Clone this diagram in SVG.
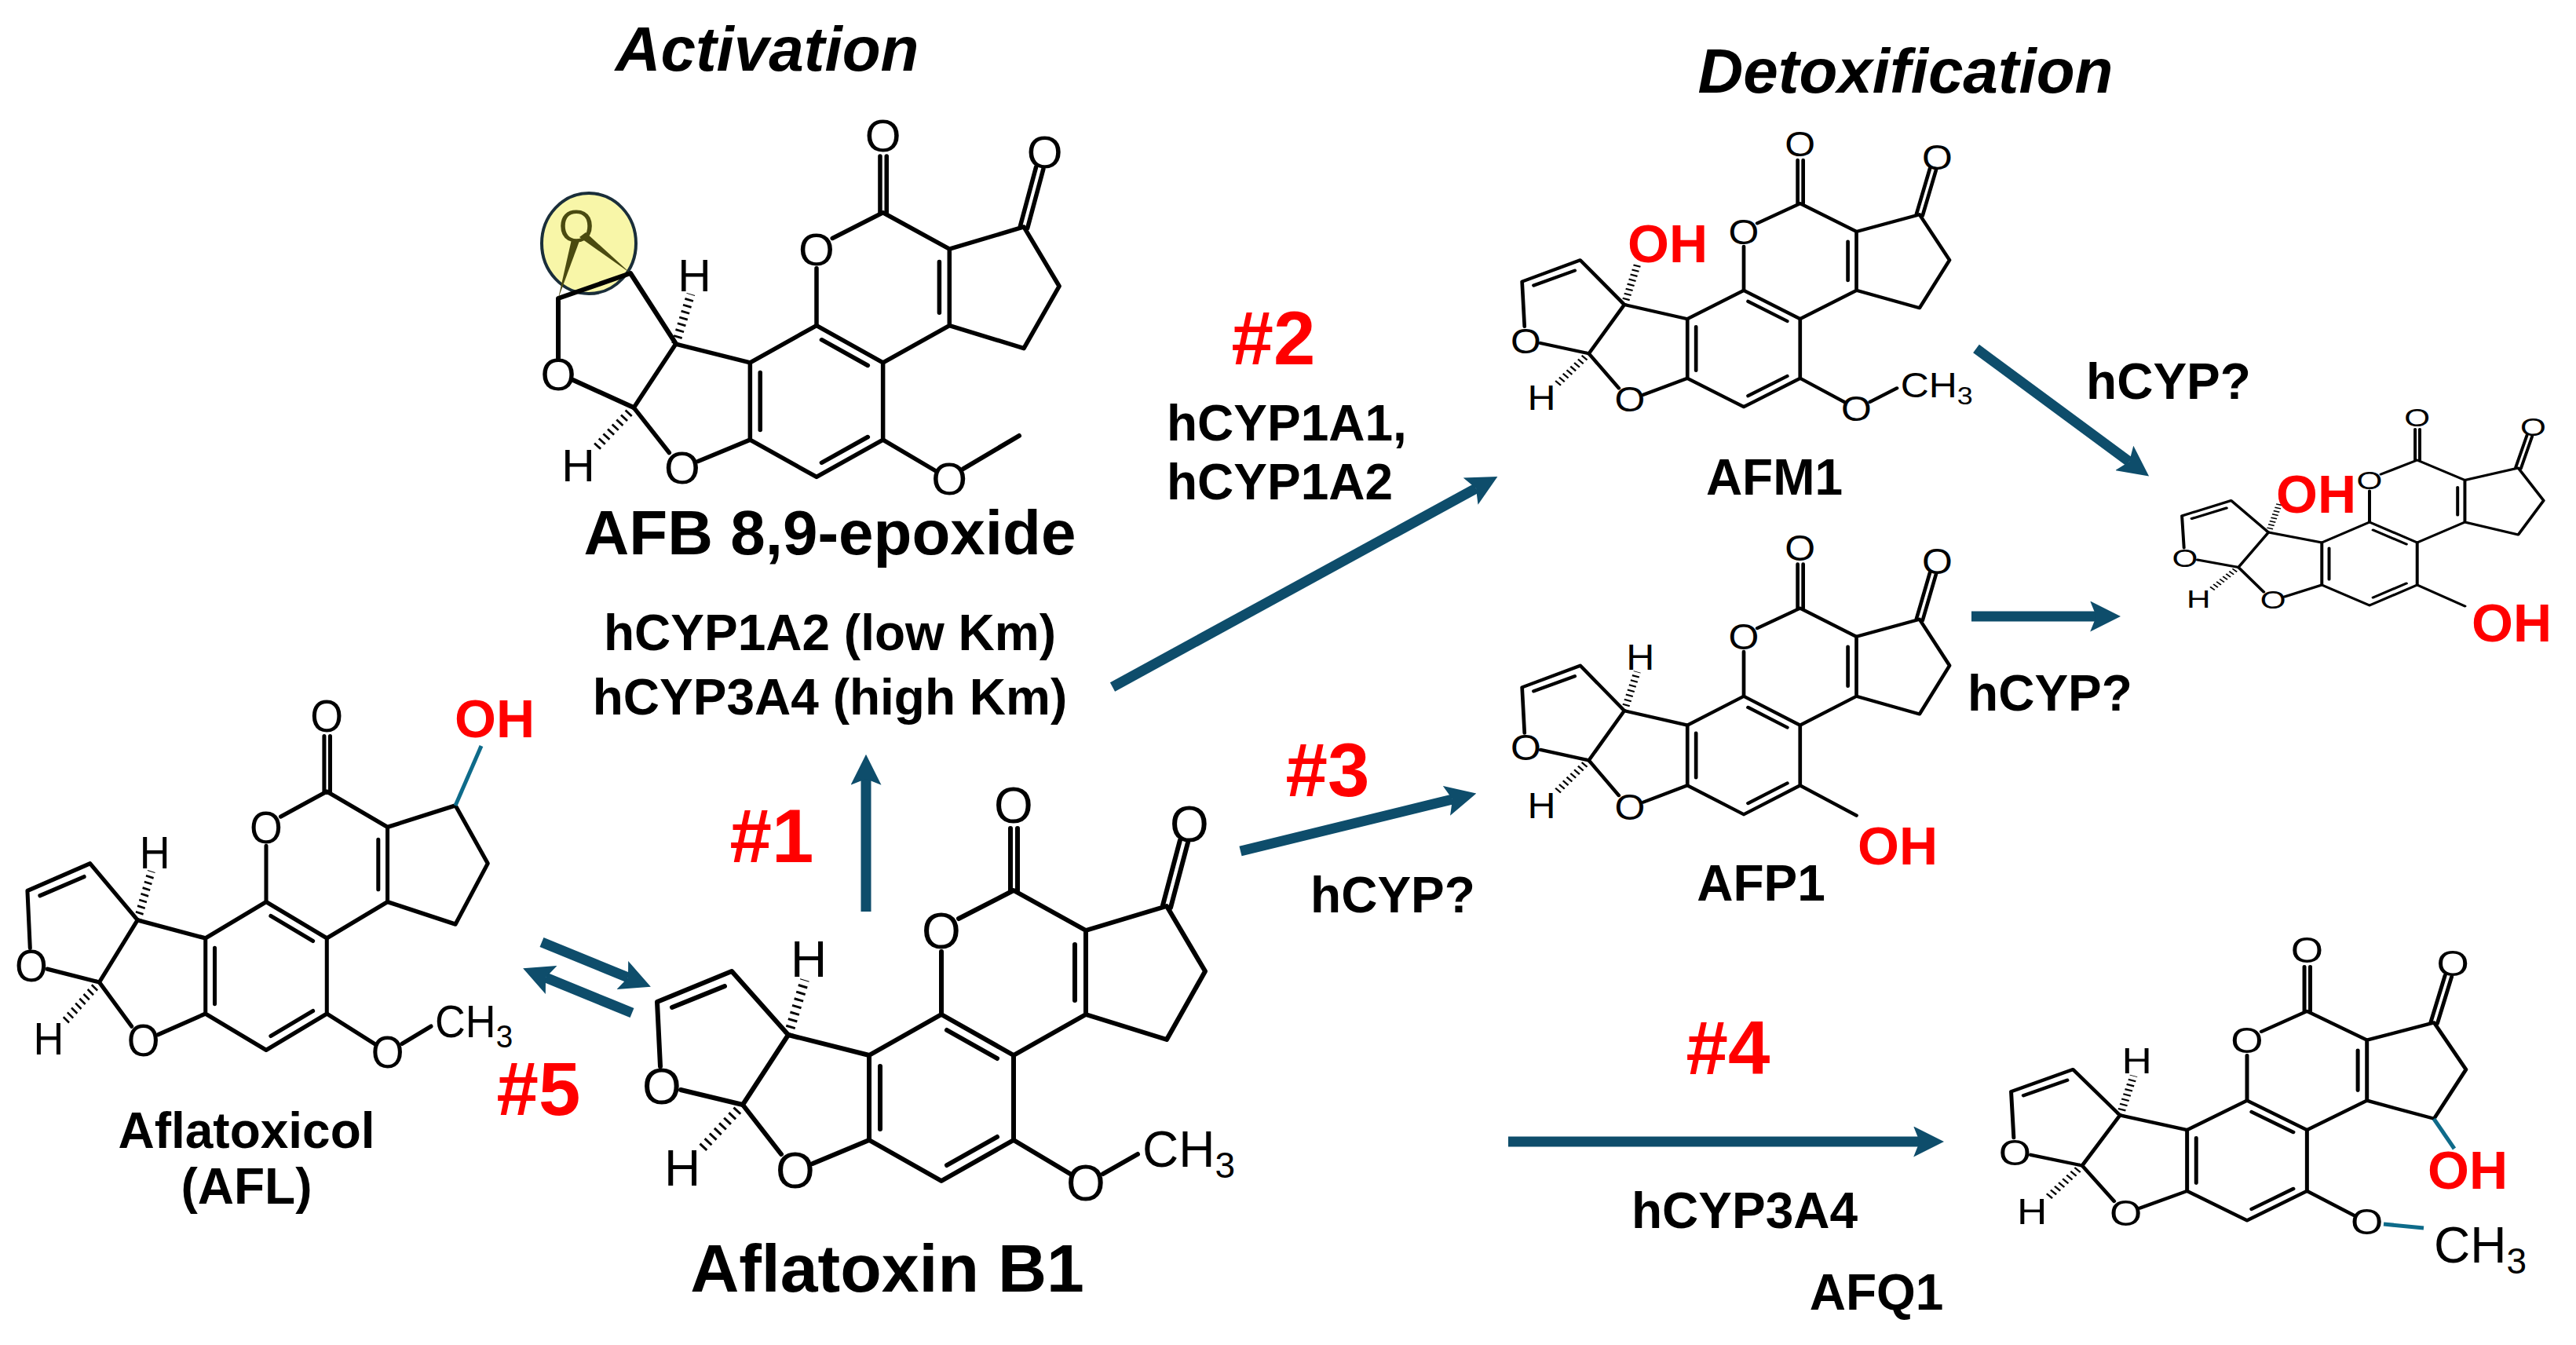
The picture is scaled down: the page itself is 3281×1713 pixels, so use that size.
<svg xmlns="http://www.w3.org/2000/svg" xmlns:xlink="http://www.w3.org/1999/xlink" width="3281" height="1713" viewBox="0 0 3281 1713">
<style>
.b{stroke:#000;stroke-width:6;fill:none;stroke-linecap:round;stroke-linejoin:round}
.hs{stroke:#000;stroke-width:12;stroke-dasharray:3 6;fill:none}
.at{font-family:"Liberation Sans",Arial,sans-serif;font-size:64px;fill:#000;text-anchor:middle}
.nm{font-family:"Liberation Sans",Arial,sans-serif;font-weight:bold;font-size:64px;fill:#000;text-anchor:middle}
.big{font-family:"Liberation Sans",Arial,sans-serif;font-weight:bold;font-size:80px;fill:#000;text-anchor:middle}
.hd{font-family:"Liberation Sans",Arial,sans-serif;font-weight:bold;font-style:italic;font-size:80px;fill:#000;text-anchor:middle}
.num{font-family:"Liberation Sans",Arial,sans-serif;font-weight:bold;font-size:96px;fill:#f00;text-anchor:middle}
.oh{font-family:"Liberation Sans",Arial,sans-serif;font-weight:bold;font-size:68px;fill:#f00;text-anchor:middle}
.ar{stroke:#0e4d6b;stroke-width:13;fill:none;marker-end:url(#ah)}
.tl{stroke:#0e6b8a;stroke-width:5;fill:none}
</style>
<defs>
<marker id="ah" viewBox="0 0 10 10" refX="2" refY="5" markerWidth="3" markerHeight="3" orient="auto">
<path d="M0,0 L10,5 L0,10 L2,5 Z" fill="#0e4d6b"/>
</marker>
<g id="core">
<path class="b" d="M-92,-54 L0,-106 L92,-54 L92,54 L0,106 L-92,54 Z"/>
<path class="b" d="M-78,-40 L-78,40 M7,-86 L71,-50 M7,86 L71,50"/>
<path class="b" d="M0,-106 L0,-186 M22,-228 L92,-264 L184,-213 L184,-106 L92,-54 M170,-195 L170,-124 M184,-213 L287,-244 L336,-161 L287,-74 L184,-106"/>
<path class="b" d="M88,-264 L88,-343 M97,-264 L97,-343"/>
<text class="at" x="0" y="-190">O</text>
<text class="at" x="92" y="-350">O</text>
<path class="b" d="M-92,54 L-164,84 M-204,72 L-253,9 L-195,-80 L-92,-54"/>
<text class="at" x="-186" y="115">O</text>
<path class="hs" d="M-253,9 L-308,68"/>
<text class="at" x="-330" y="112">H</text>
</g>
<g id="ket"><path class="b" d="M282,-245 L304,-328 M292,-242 L314,-325"/><text class="at" x="316" y="-326">O</text></g>
<g id="fur"><path class="b" d="M-253,9 L-332,-10 M-358,-40 L-362,-122 L-267,-161 L-195,-80 M-343,-115 L-276,-142"/><text class="at" x="-356" y="8">O</text></g>
<g id="hH"><path class="hs" d="M-195,-80 L-174,-150"/><text class="at" x="-169" y="-154">H</text></g>
<path id="hO" class="hs" d="M-195,-80 L-174,-152"/>
<g id="omO"><path class="b" d="M92,54 L164,97"/><text class="at" x="184" y="131">O</text></g>
<g id="ome"><use xlink:href="#omO"/><path class="b" d="M206,97 L250,72"/><text class="at" x="256" y="88" style="text-anchor:start">CH<tspan font-size="46" dy="14">3</tspan></text></g>
<path id="sub" class="b" d="M92,54 L184,108"/>
</defs>

<g id="headings">
<text class="hd" x="977" y="90">Activation</text>
<text class="hd" x="2427" y="118">Detoxification</text>
</g>

<g id="aflatoxinB1">
<use xlink:href="#core" transform="translate(1199,1398)"/>
<use xlink:href="#ket" transform="translate(1199,1398)"/>
<use xlink:href="#fur" transform="translate(1199,1398)"/>
<use xlink:href="#hH" transform="translate(1199,1398)"/>
<use xlink:href="#ome" transform="translate(1199,1398)"/>
<text class="big" x="1130" y="1645" style="font-size:86px">Aflatoxin B1</text>
</g>

<g id="epoxide">
<ellipse cx="750" cy="310" rx="60" ry="64" fill="#f8f6a8" stroke="#1a2e3a" stroke-width="4"/>
<use xlink:href="#core" transform="translate(1040,511) scale(0.92,0.91)"/>
<use xlink:href="#ket" transform="translate(1040,511) scale(0.92,0.91)"/>
<use xlink:href="#hH" transform="translate(1040,511) scale(0.92,0.91)"/>
<use xlink:href="#omO" transform="translate(1040,511) scale(0.92,0.91)"/>
<path class="b" d="M1227,597 L1298,555"/>
<path class="b" d="M807,519 L730,484 M711,456 L711,380 L803,348 L861,438"/>
<text class="at" x="711" y="497" style="font-size:58px">O</text>
<polygon points="711,380 728,305 738,307" fill="#4a4a10"/>
<polygon points="803,348 738,302 746,296" fill="#4a4a10"/>
<text class="at" x="734" y="308" style="fill:#4a4a10;font-size:58px">O</text>
<text class="big" x="1057" y="706">AFB 8,9-epoxide</text>
<text class="nm" x="1057" y="828">hCYP1A2 (low Km)</text>
<text class="nm" x="1057" y="910">hCYP3A4 (high Km)</text>
</g>

<g id="aflatoxicol">
<use xlink:href="#core" transform="translate(339,1243) scale(0.84,0.89)"/>
<use xlink:href="#fur" transform="translate(339,1243) scale(0.84,0.89)"/>
<use xlink:href="#hH" transform="translate(339,1243) scale(0.84,0.89)"/>
<use xlink:href="#ome" transform="translate(339,1243) scale(0.84,0.89)"/>
<path class="tl" d="M580,1026 L613,950"/>
<text class="oh" x="630" y="939">OH</text>
<text class="nm" x="314" y="1462">Aflatoxicol</text>
<text class="nm" x="314" y="1533">(AFL)</text>
</g>

<g id="AFM1">
<use xlink:href="#core" transform="translate(2221,444) scale(0.78,0.70)"/>
<use xlink:href="#ket" transform="translate(2221,444) scale(0.78,0.70)"/>
<use xlink:href="#fur" transform="translate(2221,444) scale(0.78,0.70)"/>
<use xlink:href="#hO" transform="translate(2221,444) scale(0.78,0.70)"/>
<use xlink:href="#ome" transform="translate(2221,444) scale(0.78,0.70)"/>
<text class="oh" x="2124" y="334">OH</text>
<text class="nm" x="2260" y="630">AFM1</text>
</g>

<g id="AFP1">
<use xlink:href="#core" transform="translate(2221,962) scale(0.78,0.71)"/>
<use xlink:href="#ket" transform="translate(2221,962) scale(0.78,0.71)"/>
<use xlink:href="#fur" transform="translate(2221,962) scale(0.78,0.71)"/>
<use xlink:href="#hH" transform="translate(2221,962) scale(0.78,0.71)"/>
<use xlink:href="#sub" transform="translate(2221,962) scale(0.78,0.71)"/>
<text class="oh" x="2417" y="1101">OH</text>
<text class="nm" x="2243" y="1147">AFP1</text>
</g>

<g id="AFM1P1product">
<use xlink:href="#core" transform="translate(3018,718) scale(0.66,0.50)"/>
<use xlink:href="#ket" transform="translate(3018,718) scale(0.66,0.50)"/>
<use xlink:href="#fur" transform="translate(3018,718) scale(0.66,0.50)"/>
<use xlink:href="#hO" transform="translate(3018,718) scale(0.66,0.50)"/>
<use xlink:href="#sub" transform="translate(3018,718) scale(0.66,0.50)"/>
<text class="oh" x="2950" y="653">OH</text>
<text class="oh" x="3199" y="817">OH</text>
</g>

<g id="AFQ1">
<use xlink:href="#core" transform="translate(2862,1478) scale(0.83,0.72)"/>
<use xlink:href="#ket" transform="translate(2862,1478) scale(0.83,0.72)"/>
<use xlink:href="#fur" transform="translate(2862,1478) scale(0.83,0.72)"/>
<use xlink:href="#hH" transform="translate(2862,1478) scale(0.83,0.72)"/>
<use xlink:href="#omO" transform="translate(2862,1478) scale(0.83,0.72)"/>
<path class="tl" d="M3036,1559 L3087,1564"/>
<text class="at" x="3100" y="1608" style="text-anchor:start">CH<tspan font-size="46" dy="14">3</tspan></text>
<path class="tl" d="M3100,1425 L3126,1463"/>
<text class="oh" x="3143" y="1514">OH</text>
<text class="nm" x="2390" y="1668">AFQ1</text>
</g>

<g id="connectors">
<path class="ar" d="M1103,1161 L1103,992"/>
<path class="ar" d="M1417,875 L1880,622"/>
<path class="ar" d="M1580,1084 L1850,1018"/>
<path class="ar" d="M1921,1454 L2445,1454"/>
<path class="ar" d="M2517,444 L2712,588"/>
<path class="ar" d="M2511,785 L2670,785"/>
<path class="ar" d="M690,1200 L800,1245"/>
<path class="ar" d="M805,1290 L695,1245"/>
</g>

<g id="labels">
<text class="num" x="983" y="1098">#1</text>
<text class="num" x="1622" y="464">#2</text>
<text class="num" x="1691" y="1014">#3</text>
<text class="num" x="2201" y="1368">#4</text>
<text class="num" x="686" y="1420">#5</text>
<text class="nm" x="1486" y="561" style="text-anchor:start">hCYP1A1,</text>
<text class="nm" x="1486" y="636" style="text-anchor:start">hCYP1A2</text>
<text class="nm" x="2762" y="508">hCYP?</text>
<text class="nm" x="2611" y="905">hCYP?</text>
<text class="nm" x="1774" y="1162">hCYP?</text>
<text class="nm" x="2222" y="1564">hCYP3A4</text>
</g>
</svg>
